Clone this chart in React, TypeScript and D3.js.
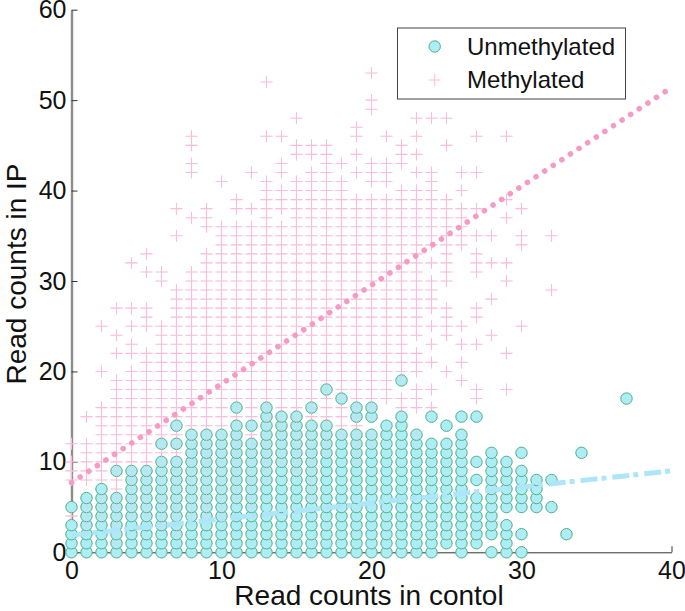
// App.tsx
import React, { useRef, useEffect } from 'react';
import * as d3 from 'd3';

const xTicks = [0, 10, 20, 30, 40];
const yTicks = [0, 10, 20, 30, 40, 50, 60];

// y values for each control count (index = x)
const unmethylated = [
  [0, 1, 2, 3, 5],
  [0, 1, 2, 3, 4, 5, 6],
  [0, 1, 2, 3, 4, 5, 6, 7],
  [0, 1, 2, 3, 4, 5, 6, 9],
  [0, 1, 2, 3, 4, 5, 6, 7, 8, 9],
  [0, 1, 2, 3, 4, 5, 6, 7, 8, 9],
  [0, 1, 2, 3, 4, 5, 6, 7, 8, 9, 10, 12],
  [0, 1, 2, 3, 4, 5, 6, 7, 8, 9, 10, 12, 14],
  [0, 1, 2, 3, 4, 5, 6, 7, 8, 9, 10, 11, 12, 13],
  [0, 1, 2, 3, 4, 5, 6, 7, 8, 9, 10, 11, 12, 13],
  [0, 1, 2, 3, 4, 5, 6, 7, 8, 9, 10, 11, 12, 13],
  [0, 1, 2, 3, 4, 5, 6, 7, 8, 9, 10, 11, 12, 13, 14, 16],
  [0, 1, 2, 3, 4, 5, 6, 7, 8, 9, 10, 11, 12, 14],
  [0, 1, 2, 3, 4, 5, 6, 7, 8, 9, 10, 11, 12, 13, 14, 15, 16],
  [0, 1, 2, 3, 4, 5, 6, 7, 8, 9, 10, 11, 12, 13, 14, 15],
  [0, 1, 2, 3, 4, 5, 6, 7, 8, 9, 10, 11, 12, 13, 14, 15],
  [0, 1, 2, 3, 4, 5, 6, 7, 8, 9, 10, 11, 12, 13, 14, 16],
  [0, 1, 2, 3, 4, 5, 6, 7, 8, 9, 10, 11, 12, 13, 14, 18],
  [0, 1, 2, 3, 4, 5, 6, 7, 8, 9, 10, 11, 12, 13, 17],
  [0, 1, 2, 3, 4, 5, 6, 7, 8, 9, 10, 11, 12, 13, 15, 16],
  [0, 1, 2, 3, 4, 5, 6, 7, 8, 9, 10, 11, 12, 13, 15, 16],
  [0, 1, 2, 3, 4, 5, 6, 7, 8, 9, 10, 11, 12, 13, 14],
  [0, 1, 2, 3, 4, 5, 6, 7, 8, 9, 10, 11, 12, 13, 14, 15, 19],
  [0, 1, 2, 3, 4, 5, 6, 7, 8, 9, 10, 11, 12, 13],
  [0, 1, 2, 3, 4, 5, 6, 7, 8, 9, 10, 11, 12, 15],
  [1, 2, 3, 4, 5, 6, 7, 8, 9, 10, 11, 12, 14],
  [0, 1, 2, 3, 4, 5, 6, 7, 8, 9, 10, 11, 12, 13, 15],
  [1, 2, 3, 4, 5, 6, 8, 10, 15],
  [0, 2, 3, 4, 5, 6, 7, 8, 9, 10, 11],
  [0, 1, 2, 3, 5, 6, 7, 8, 9, 10],
  [0, 2, 5, 6, 7, 8, 9, 11],
  [5, 6, 7, 8],
  [5, 8],
  [2],
  [11],
  [],
  [],
  [17],
];

const methylated = [
  [12, 10, 9, 8, 4],
  [15, 12, 11, 10, 9, 8, 5, 4, 3],
  [25, 20, 16, 15, 14, 13, 12, 11, 10, 9, 8, 6, 5, 4],
  [27, 24, 22, 19, 18, 17, 16, 15, 14, 13, 12, 11, 10, 9, 8, 7, 6, 5, 4, 3, 2, 1],
  [32, 27, 25, 23, 22, 20, 19, 18, 17, 16, 15, 14, 13, 12, 11, 10, 9, 8, 7, 6, 5, 4],
  [33, 31, 27, 26, 25, 22, 21, 20, 19, 18, 17, 16, 15, 14, 13, 12, 11, 10, 9, 8, 7, 6, 5, 4],
  [31, 30, 25, 24, 23, 22, 21, 20, 19, 18, 17, 16, 15, 14, 13, 12, 11, 10, 9, 8, 7, 6, 5, 4, 3],
  [38, 35, 29, 28, 27, 26, 25, 24, 23, 22, 21, 20, 19, 18, 17, 16, 15, 14, 13, 12, 11, 10, 9, 8, 7, 6, 5, 4, 3, 2],
  [46, 45, 43, 42, 37, 31, 30, 29, 28, 27, 26, 25, 24, 23, 22, 21, 20, 19, 18, 17, 16, 15, 14, 13, 12, 11, 10, 9, 8, 7, 6, 5, 4],
  [38, 37, 36, 33, 32, 31, 30, 29, 28, 27, 26, 25, 24, 23, 22, 21, 20, 19, 18, 17, 16, 15, 14, 13, 12, 11, 10, 9, 8, 7, 6, 5, 4],
  [41, 36, 35, 34, 33, 32, 31, 30, 29, 28, 27, 26, 25, 24, 23, 22, 21, 20, 19, 18, 17, 16, 15, 14, 13, 12, 11, 10, 9, 8, 7, 6, 5, 4],
  [39, 38, 36, 35, 34, 33, 32, 31, 30, 29, 28, 27, 26, 25, 24, 23, 22, 21, 20, 19, 18, 17, 16, 15, 14, 13, 12, 11, 10, 9, 8, 7, 6],
  [42, 38, 36, 35, 34, 33, 32, 31, 30, 29, 28, 27, 26, 25, 24, 23, 22, 21, 20, 19, 18, 17, 16, 15, 14, 13, 12, 11, 10, 9, 8, 7, 6, 5],
  [52, 46, 41, 40, 39, 38, 37, 36, 35, 34, 33, 32, 31, 30, 29, 28, 27, 26, 25, 24, 23, 22, 21, 20, 19, 18, 17, 16, 15, 14, 13, 12, 11, 10, 9, 8],
  [46, 43, 42, 40, 39, 38, 36, 35, 34, 33, 32, 31, 30, 29, 28, 27, 26, 25, 24, 23, 22, 21, 20, 19, 18, 17, 16, 15, 14, 13, 12, 11, 10],
  [48, 45, 44, 41, 40, 39, 38, 37, 36, 35, 34, 33, 32, 31, 30, 29, 28, 27, 26, 25, 24, 23, 22, 21, 20, 19, 18, 17, 16, 15, 14, 13, 12, 11, 10, 9],
  [45, 44, 42, 41, 40, 39, 38, 37, 36, 35, 34, 33, 32, 31, 30, 29, 28, 27, 26, 25, 24, 23, 22, 21, 20, 19, 18, 17, 16, 15, 14, 13, 12, 11, 10, 9, 8, 7, 6],
  [45, 44, 43, 42, 41, 40, 39, 38, 37, 36, 35, 34, 33, 32, 31, 30, 29, 28, 27, 26, 25, 24, 23, 22, 21, 20, 19, 18, 17, 16, 15, 14, 13, 12, 11],
  [43, 41, 40, 39, 38, 37, 36, 35, 34, 33, 32, 31, 30, 29, 28, 27, 26, 25, 24, 23, 22, 21, 20, 19, 18, 17, 16, 15, 14, 13],
  [47, 46, 44, 42, 39, 38, 37, 36, 35, 34, 33, 32, 31, 30, 29, 28, 27, 26, 25, 24, 23, 22, 21, 20, 19, 18, 17, 16, 15, 14, 13, 12, 11, 10],
  [53, 50, 49, 43, 42, 41, 39, 38, 37, 36, 35, 34, 33, 32, 31, 30, 29, 28, 27, 26, 25, 24, 23, 22, 21, 20, 19, 18, 17, 16, 15, 13, 12],
  [46, 43, 42, 41, 39, 38, 37, 36, 35, 34, 33, 32, 31, 30, 29, 28, 27, 26, 25, 24, 23, 22, 21, 20, 19, 18, 17],
  [45, 44, 43, 40, 39, 38, 37, 36, 35, 34, 33, 32, 31, 30, 29, 28, 27, 26, 25, 24, 23, 22, 21, 20, 19, 17, 16],
  [48, 46, 44, 42, 40, 39, 38, 37, 36, 35, 34, 33, 32, 31, 30, 29, 28, 27, 26, 25, 24, 22, 21, 20, 18, 17, 16, 13],
  [48, 42, 41, 40, 39, 38, 37, 36, 35, 34, 32, 30, 29, 28, 27, 25, 23, 21, 18, 16],
  [48, 45, 39, 38, 37, 36, 35, 34, 33, 32, 31, 30, 27, 26, 25, 24, 20],
  [42, 40, 38, 37, 36, 35, 34, 25, 23, 21, 19],
  [46, 42, 38, 35, 33, 32, 31, 27, 26, 23, 18, 17],
  [35, 32, 28, 24],
  [46, 39, 37, 32, 30, 22, 18],
  [38, 35, 34, 25],
  [],
  [35, 29],
];

const methylatedFitX = [0, 40];
const methylatedFitY = [7.7, 51.4];
const unmethylatedFitX = [0, 40];
const unmethylatedFitY = [1.9, 9];

const legendLabels = ['Unmethylated', 'Methylated'];

const fontFamily = '"Liberation Sans", Arial, sans-serif';
const pink = '#f9bfda';
const fill = '#aeedf6';
const edge = '#4bb083';

const App = () => {
  const ref = useRef<SVGSVGElement>(null);

  useEffect(() => {
    const svg = d3.select(ref.current);
    svg.selectAll('*').remove();

    const x = d3.scaleLinear().domain([0, 40]).range([71.5, 671.5]);
    const y = d3.scaleLinear().domain([0, 60]).range([552.3, 9.7]);

    const flat = (cols: number[][]) =>
      cols.flatMap((vals, i) => vals.map(v => [i, v]));

    const drawPlus = (g: any, pts: number[][], opacity: number) => {
      g.selectAll('path')
        .data(pts)
        .enter()
        .append('path')
        .attr('d', (d: number[]) => {
          const px = x(d[0]);
          const py = y(d[1]);
          return `M${px - 6},${py}H${px + 6}M${px},${py - 6}V${py + 6}`;
        })
        .attr('fill', 'none')
        .attr('stroke', pink)
        .attr('stroke-width', 1.1)
        .attr('opacity', opacity);
    };

    // axes first, marks go over them
    const yAxis = svg
      .append('g')
      .attr('transform', `translate(${x(0)},0)`)
      .call(d3.axisLeft(y).tickValues(yTicks).tickSizeInner(-6).tickSizeOuter(0).tickPadding(5));
    yAxis.select('.domain').attr('stroke', '#8c8c8c').attr('stroke-width', 2.4);
    yAxis.selectAll('line').attr('stroke', '#333');

    const xAxis = svg
      .append('g')
      .attr('transform', `translate(0,${y(0)})`)
      .call(d3.axisBottom(x).tickValues(xTicks).tickSizeInner(-6).tickSizeOuter(0).tickPadding(9));
    xAxis.select('.domain').attr('stroke', '#333');
    xAxis.selectAll('line').attr('stroke', '#333');

    svg
      .selectAll('.tick text')
      .attr('font-family', fontFamily)
      .attr('font-size', 25)
      .attr('fill', '#111');

    const points = flat(methylated);
    drawPlus(svg.append('g'), points, 1);

    svg
      .append('g')
      .selectAll('circle')
      .data(flat(unmethylated))
      .enter()
      .append('circle')
      .attr('cx', d => x(d[0]))
      .attr('cy', d => y(d[1]))
      .attr('r', 5.7)
      .attr('fill', fill)
      .attr('stroke', edge)
      .attr('stroke-width', 1);

    // faint pink showing through the circles
    drawPlus(svg.append('g'), points, 0.3);

    const fit = (xs: number[], ys: number[]) =>
      d3
        .line<number>()
        .x(d => x(d))
        .y((d, i) => y(ys[i]))(xs);

    svg
      .append('path')
      .attr('d', fit(unmethylatedFitX, unmethylatedFitY))
      .attr('fill', 'none')
      .attr('stroke', '#aee6f9')
      .attr('stroke-width', 5)
      .attr('stroke-dasharray', '17 4 5 6');

    svg
      .append('path')
      .attr('d', fit(methylatedFitX, methylatedFitY))
      .attr('fill', 'none')
      .attr('stroke', '#f59cc6')
      .attr('stroke-width', 5.6)
      .attr('stroke-linecap', 'round')
      .attr('stroke-dasharray', '0.1 10.2');

    // legend
    const legend = svg.append('g');
    legend
      .append('rect')
      .attr('x', 397.5)
      .attr('y', 28)
      .attr('width', 228)
      .attr('height', 71)
      .attr('fill', 'white')
      .attr('stroke', '#444')
      .attr('stroke-width', 1);
    legend
      .append('circle')
      .attr('cx', 434.7)
      .attr('cy', 46.5)
      .attr('r', 5.7)
      .attr('fill', fill)
      .attr('stroke', edge)
      .attr('stroke-width', 1);
    legend
      .append('path')
      .attr('d', 'M428.7,80H440.7M434.7,74V86')
      .attr('stroke', pink)
      .attr('stroke-width', 1.1);
    legend
      .selectAll('text')
      .data(legendLabels)
      .enter()
      .append('text')
      .attr('x', 467)
      .attr('y', (d, i) => 55 + i * 33)
      .attr('font-family', fontFamily)
      .attr('font-size', 24)
      .attr('fill', '#111')
      .text(d => d);

    // axis titles
    svg
      .append('text')
      .attr('x', 369)
      .attr('y', 605)
      .attr('text-anchor', 'middle')
      .attr('font-family', fontFamily)
      .attr('font-size', 28)
      .attr('fill', '#111')
      .text('Read counts in contol');

    svg
      .append('text')
      .attr('transform', 'translate(26,274) rotate(-90)')
      .attr('text-anchor', 'middle')
      .attr('font-family', fontFamily)
      .attr('font-size', 28)
      .attr('fill', '#111')
      .text('Read counts in IP');
  }, []);

  return (
    <svg
      ref={ref}
      width={685}
      height={611}
      style={{ position: 'absolute', left: 0, top: 0, background: 'white' }}
    />
  );
};

export default App;
